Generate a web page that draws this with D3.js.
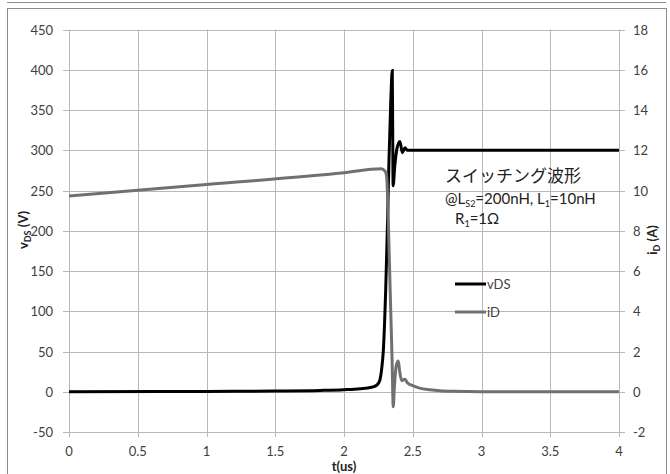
<!DOCTYPE html>
<html>
<head>
<meta charset="utf-8">
<script src="https://cdn.jsdelivr.net/npm/d3@7"></script>
<style>
  body { margin: 0; background: #fff; }
  text { font-family: Lato, "Open Sans", sans-serif; fill: #404040; }
  .jp { font-family: "Noto Sans CJK JP", sans-serif; fill: #222; }
</style>
</head>
<body>
<div id="chart"></div>
<script>
// time axis (us)
const vdsTime = [0, 1.0, 1.5, 1.825, 2.0, 2.116, 2.2, 2.238, 2.26, 2.275, 2.286, 2.295, 2.303, 2.315, 2.327, 2.34, 2.351, 2.354, 2.357, 2.37, 2.385, 2.407, 2.424, 2.444, 2.46, 3.0, 4.0];
const vdsValues = [0, 0.4, 0.9, 1.6, 2.5, 3.7, 5.5, 8, 14, 30, 51, 85, 125, 200, 287, 360, 399, 330, 256, 282, 302, 311, 297, 303, 300, 300, 300];

const idTime = [0, 1.0, 2.0, 2.27, 2.30, 2.31, 2.318, 2.33, 2.34, 2.35, 2.358, 2.366, 2.38, 2.395, 2.405, 2.42, 2.432, 2.444, 2.46, 2.5, 2.55, 2.625, 2.7, 2.8, 3.0, 4.0];
const idValues = [9.73, 10.3, 10.88, 11.08, 10.95, 10.7, 9.5, 6.5, 4.0, 1.5, -0.74, 0.2, 1.3, 1.53, 1.0, 0.55, 0.6, 0.62, 0.45, 0.3, 0.18, 0.1, 0.05, 0.02, 0, 0];

const xTicks = [0, 0.5, 1, 1.5, 2, 2.5, 3, 3.5, 4];
const leftTicks = [-50, 0, 50, 100, 150, 200, 250, 300, 350, 400, 450];
const rightTicks = [-2, 0, 2, 4, 6, 8, 10, 12, 14, 16, 18];

const width = 670;
const height = 474;
const plot = { left: 69, right: 619, top: 29.5, bottom: 432 };

const svg = d3.select("#chart").append("svg")
  .attr("width", width)
  .attr("height", height);

// frames
svg.append("line")
  .attr("x1", 7).attr("x2", 666).attr("y1", 2.5).attr("y2", 2.5)
  .attr("stroke", "#8c8c8c");
svg.append("rect")
  .attr("x", 7.5).attr("y", 8.5)
  .attr("width", 659).attr("height", 470)
  .attr("fill", "none").attr("stroke", "#8c8c8c");

const x = d3.scaleLinear().domain([0, 4]).range([plot.left, plot.right]);
const yL = d3.scaleLinear().domain([-50, 450]).range([plot.bottom, plot.top]);
const yR = d3.scaleLinear().domain([-2, 18]).range([plot.bottom, plot.top]);

// grid
svg.append("g")
  .selectAll("line")
  .data(leftTicks)
  .join("line")
  .attr("x1", plot.left - 6).attr("x2", plot.right + 6)
  .attr("y1", (d) => Math.round(yL(d)) + 0.5)
  .attr("y2", (d) => Math.round(yL(d)) + 0.5)
  .attr("stroke", "#b8b8b8");

svg.append("g")
  .selectAll("line")
  .data(xTicks)
  .join("line")
  .attr("x1", (d) => Math.round(x(d)) + 0.5)
  .attr("x2", (d) => Math.round(x(d)) + 0.5)
  .attr("y1", plot.top).attr("y2", plot.bottom + 5)
  .attr("stroke", "#b8b8b8");

// tick labels
svg.append("g")
  .selectAll("text")
  .data(leftTicks)
  .join("text")
  .attr("x", plot.left - 16)
  .attr("y", (d) => yL(d) + 5)
  .attr("text-anchor", "end")
  .attr("font-size", 13)
  .text((d) => d);

svg.append("g")
  .selectAll("text")
  .data(rightTicks)
  .join("text")
  .attr("x", plot.right + 14)
  .attr("y", (d) => yR(d) + 5)
  .attr("text-anchor", "start")
  .attr("font-size", 13)
  .text((d) => d);

svg.append("g")
  .selectAll("text")
  .data(xTicks)
  .join("text")
  .attr("x", (d) => x(d))
  .attr("y", plot.bottom + 24)
  .attr("text-anchor", "middle")
  .attr("font-size", 13)
  .text((d) => d);

// axis titles
svg.append("text")
  .attr("x", (plot.left + plot.right) / 2)
  .attr("y", 471)
  .attr("text-anchor", "middle")
  .attr("font-size", 13)
  .attr("font-weight", "bold")
  .style("fill", "#222")
  .text("t(us)");

const leftTitle = svg.append("text")
  .attr("transform", "translate(28, 230) rotate(-90)")
  .attr("text-anchor", "middle")
  .attr("font-size", 13)
  .attr("font-weight", "bold")
  .style("fill", "#222");
leftTitle.append("tspan").text("v");
leftTitle.append("tspan").attr("font-size", 9).attr("dy", 3).text("DS");
leftTitle.append("tspan").attr("dy", -3).text(" (V)");

const rightTitle = svg.append("text")
  .attr("transform", "translate(657, 240) rotate(-90)")
  .attr("text-anchor", "middle")
  .attr("font-size", 13)
  .attr("font-weight", "bold")
  .style("fill", "#222");
rightTitle.append("tspan").text("i");
rightTitle.append("tspan").attr("font-size", 9).attr("dy", 3).text("D");
rightTitle.append("tspan").attr("dy", -3).text(" (A)");

// series
const vdsLine = d3.line()
  .x((d, i) => x(vdsTime[i]))
  .y((d) => yL(d))
  .curve(d3.curveMonotoneX);

const idLine = d3.line()
  .x((d, i) => x(idTime[i]))
  .y((d) => yR(d))
  .curve(d3.curveMonotoneX);

svg.append("path")
  .attr("d", vdsLine(vdsValues))
  .attr("fill", "none")
  .attr("stroke", "#000")
  .attr("stroke-width", 3);

svg.append("path")
  .attr("d", idLine(idValues))
  .attr("fill", "none")
  .attr("stroke", "#707070")
  .attr("stroke-width", 3);

// legend
const legend = [
  { name: "vDS", color: "#000", y: 284 },
  { name: "iD", color: "#707070", y: 312 }
];
const lg = svg.append("g");
lg.selectAll("line")
  .data(legend)
  .join("line")
  .attr("x1", 455).attr("x2", 486)
  .attr("y1", (d) => d.y).attr("y2", (d) => d.y)
  .attr("stroke", (d) => d.color)
  .attr("stroke-width", 3);
lg.selectAll("text")
  .data(legend)
  .join("text")
  .attr("x", 487)
  .attr("y", (d) => d.y + 5)
  .attr("font-size", 13)
  .text((d) => d.name);

// annotation
svg.append("text")
  .attr("class", "jp")
  .attr("x", 445)
  .attr("y", 182)
  .attr("font-size", 17)
  .text("スイッチング波形");

const note1 = svg.append("text")
  .attr("x", 445)
  .attr("y", 204)
  .attr("font-size", 15)
  .style("fill", "#222");
note1.append("tspan").text("@L");
note1.append("tspan").attr("font-size", 9).attr("dy", 3).text("S2");
note1.append("tspan").attr("dy", -3).text("=200nH, L");
note1.append("tspan").attr("font-size", 9).attr("dy", 3).text("1");
note1.append("tspan").attr("dy", -3).text("=10nH");

const note2 = svg.append("text")
  .attr("x", 455)
  .attr("y", 224)
  .attr("font-size", 15)
  .style("fill", "#222");
note2.append("tspan").text("R");
note2.append("tspan").attr("font-size", 9).attr("dy", 3).text("1");
note2.append("tspan").attr("dy", -3).text("=1Ω");
</script>
</body>
</html>
